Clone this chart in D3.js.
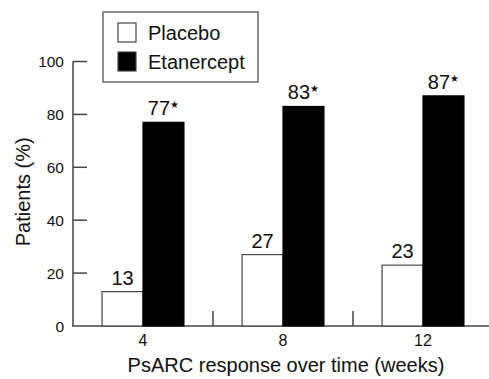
<!DOCTYPE html>
<html>
<head>
    <meta charset="utf-8" />
    <title>PsARC response</title>
    <script src="https://d3js.org/d3.v7.min.js"></script>
    <style>
      body { margin: 0; background: #fff; }
      text { font-family: 'Liberation Sans', Arial, Helvetica, sans-serif; fill: #111; }
    </style>
</head>
<body>
    <svg id="chart" width="489" height="379"></svg>

    <script>
        // Data
        var weeks = ["4", "8", "12"];
        var series = ["Placebo", "Etanercept"];
        var placebo = [13, 27, 23];
        var etanercept = [77, 83, 87];
        var starred = [false, true];
        var yTicks = [0, 20, 40, 60, 80, 100];

        var colors = { "Placebo": "#fff", "Etanercept": "#000" };
        var values = { "Placebo": placebo, "Etanercept": etanercept };

        var svg = d3.select("#chart");
        var axisColor = "#444";

        // scales
        var x = d3.scaleBand().domain(weeks).range([73, 493]).padding(0);
        var xInner = d3.scaleBand().domain(series)
            .range([0, x.bandwidth()])
            .paddingInner(0)
            .paddingOuter(0.71);
        var y = d3.scaleLinear().domain([0, 100]).range([326, 61.5]);

        // y axis
        svg.append("line")
            .attr("x1", 73).attr("x2", 73)
            .attr("y1", y(100)).attr("y2", y(0))
            .attr("stroke", axisColor).attr("stroke-width", 1.5);

        svg.selectAll(".ytick")
            .data(yTicks.filter(function(d){ return d > 0; }))
            .enter().append("line")
            .attr("x1", 73).attr("x2", 87)
            .attr("y1", function(d){ return y(d); })
            .attr("y2", function(d){ return y(d); })
            .attr("stroke", axisColor).attr("stroke-width", 1.5);

        svg.selectAll(".ylabel")
            .data(yTicks)
            .enter().append("text")
            .attr("x", 64)
            .attr("y", function(d){ return y(d); })
            .attr("dy", "0.36em")
            .attr("text-anchor", "end")
            .style("font-size", "15.5px")
            .text(function(d){ return d; });

        // x axis line
        svg.append("line")
            .attr("x1", 72).attr("x2", 493)
            .attr("y1", y(0)).attr("y2", y(0))
            .attr("stroke", axisColor).attr("stroke-width", 1.5);

        // group separators
        svg.selectAll(".sep")
            .data(weeks.slice(1))
            .enter().append("line")
            .attr("x1", function(d){ return x(d); })
            .attr("x2", function(d){ return x(d); })
            .attr("y1", y(0) - 15).attr("y2", y(0))
            .attr("stroke", axisColor).attr("stroke-width", 1.5);

        svg.selectAll(".xlabel")
            .data(weeks)
            .enter().append("text")
            .attr("x", function(d){ return x(d) + x.bandwidth() / 2; })
            .attr("y", 346)
            .attr("text-anchor", "middle")
            .style("font-size", "16px")
            .text(function(d){ return d; });

        // bars
        var groups = svg.selectAll(".group")
            .data(weeks)
            .enter().append("g")
            .attr("transform", function(d){ return "translate(" + x(d) + ",0)"; });

        groups.each(function(w, i) {
            var g = d3.select(this);
            series.forEach(function(s, j) {
                var v = values[s][i];
                g.append("rect")
                    .attr("x", xInner(s))
                    .attr("y", y(v))
                    .attr("width", xInner.bandwidth())
                    .attr("height", y(0) - y(v))
                    .attr("fill", colors[s])
                    .attr("stroke", s == "Placebo" ? axisColor : "#000")
                    .attr("stroke-width", 1.2);

                var label = g.append("text")
                    .attr("x", xInner(s) + xInner.bandwidth() / 2)
                    .attr("y", y(v) - 7)
                    .attr("text-anchor", "middle")
                    .style("font-size", "20px")
                    .text(v);
                if (starred[j]) {
                    label.append("tspan")
                        .attr("dy", -7)
                        .style("font-size", "10px")
                        .text("\u2605");
                }
            });
        });

        // axis titles
        svg.append("text")
            .attr("transform", "translate(30," + (y(50) - 2) + ") rotate(-90)")
            .attr("text-anchor", "middle")
            .style("font-size", "20px")
            .text("Patients (%)");

        svg.append("text")
            .attr("x", 286)
            .attr("y", 372)
            .attr("text-anchor", "middle")
            .style("font-size", "20px")
            .text("PsARC response over time (weeks)");

        // legend
        var legend = svg.append("g");
        legend.append("rect")
            .attr("x", 103).attr("y", 12)
            .attr("width", 155).attr("height", 70)
            .attr("fill", "#fff")
            .attr("stroke", axisColor).attr("stroke-width", 1.2);

        var items = legend.selectAll(".item")
            .data(series)
            .enter().append("g")
            .attr("transform", function(d, i){ return "translate(118," + (23 + i * 29) + ")"; });

        items.append("rect")
            .attr("width", 18).attr("height", 19)
            .attr("fill", function(d){ return colors[d]; })
            .attr("stroke", axisColor).attr("stroke-width", 1.2);

        items.append("text")
            .attr("x", 30).attr("y", 17)
            .style("font-size", "20px")
            .text(function(d){ return d; });
    </script>
</body>
</html>
